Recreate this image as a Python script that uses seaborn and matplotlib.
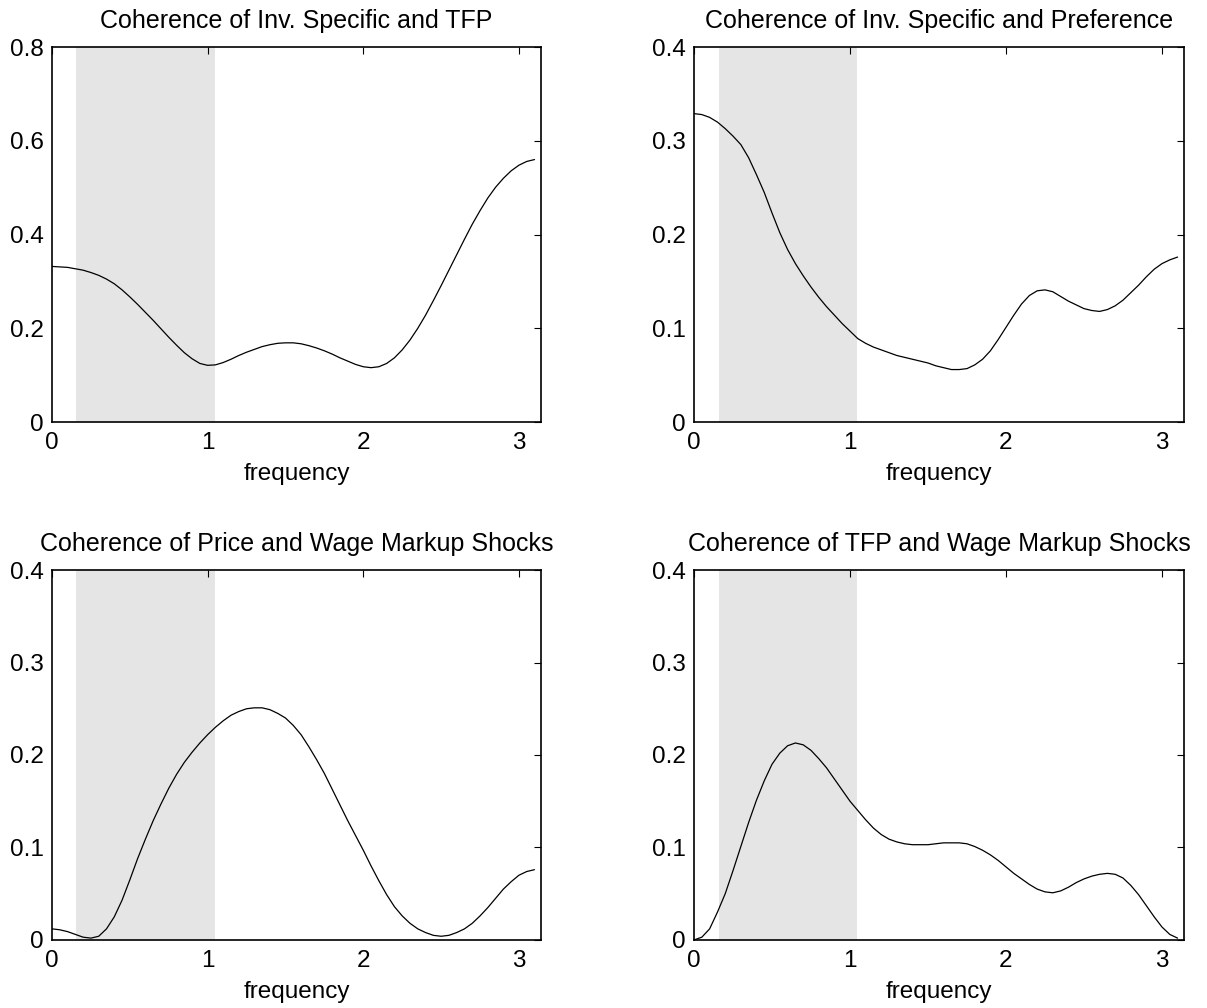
import numpy as np
import pandas as pd
import matplotlib
matplotlib.use("Agg")
import matplotlib.pyplot as plt
from matplotlib.ticker import FuncFormatter
import seaborn as sns

# Frequency grid (radians), 0 to 3.1 in steps of 0.05
freq = np.round(np.linspace(0.0, 3.1, 63), 2)

coh_inv_tfp = [0.332, 0.331, 0.330, 0.327, 0.324, 0.319, 0.313, 0.305, 0.295, 0.282,
               0.267, 0.251, 0.234, 0.217, 0.199, 0.181, 0.164, 0.148, 0.135, 0.125,
               0.121, 0.122, 0.127, 0.134, 0.142, 0.149, 0.155, 0.161, 0.165, 0.168,
               0.169, 0.169, 0.167, 0.163, 0.158, 0.152, 0.145, 0.137, 0.130, 0.123,
               0.118, 0.116, 0.118, 0.125, 0.137, 0.154, 0.175, 0.200, 0.228, 0.259,
               0.291, 0.324, 0.357, 0.390, 0.422, 0.451, 0.478, 0.501, 0.520, 0.536,
               0.548, 0.556, 0.560]

coh_inv_pref = [0.329, 0.328, 0.325, 0.320, 0.313, 0.305, 0.296, 0.282, 0.264, 0.245,
                0.223, 0.202, 0.184, 0.169, 0.156, 0.144, 0.133, 0.123, 0.114, 0.105,
                0.097, 0.089, 0.084, 0.080, 0.077, 0.074, 0.071, 0.069, 0.067, 0.065,
                0.063, 0.060, 0.058, 0.056, 0.056, 0.057, 0.061, 0.067, 0.076, 0.088,
                0.101, 0.114, 0.126, 0.135, 0.140, 0.141, 0.139, 0.134, 0.129, 0.125,
                0.121, 0.119, 0.118, 0.120, 0.124, 0.130, 0.138, 0.146, 0.155, 0.163,
                0.169, 0.173, 0.176]

coh_price_wage = [0.012, 0.011, 0.009, 0.006, 0.003, 0.002, 0.004, 0.012, 0.025, 0.043,
                  0.065, 0.088, 0.109, 0.129, 0.147, 0.164, 0.179, 0.192, 0.203, 0.213,
                  0.222, 0.230, 0.237, 0.243, 0.247, 0.250, 0.251, 0.251, 0.249, 0.245,
                  0.240, 0.232, 0.222, 0.209, 0.195, 0.180, 0.163, 0.146, 0.129, 0.113,
                  0.097, 0.080, 0.064, 0.049, 0.036, 0.026, 0.018, 0.012, 0.008, 0.005,
                  0.004, 0.005, 0.008, 0.012, 0.018, 0.026, 0.035, 0.045, 0.055, 0.063,
                  0.070, 0.074, 0.076]

coh_tfp_wage = [0.000, 0.003, 0.012, 0.030, 0.050, 0.075, 0.101, 0.127, 0.151, 0.172,
                0.190, 0.202, 0.210, 0.213, 0.211, 0.205, 0.196, 0.186, 0.174, 0.162,
                0.150, 0.140, 0.130, 0.121, 0.114, 0.109, 0.106, 0.104, 0.103, 0.103,
                0.103, 0.104, 0.105, 0.105, 0.105, 0.104, 0.101, 0.097, 0.092, 0.086,
                0.079, 0.072, 0.066, 0.060, 0.055, 0.052, 0.051, 0.053, 0.057, 0.062,
                0.066, 0.069, 0.071, 0.072, 0.071, 0.067, 0.059, 0.049, 0.037, 0.025,
                0.014, 0.006, 0.002]

titles = ["Coherence of Inv. Specific and TFP",
          "Coherence of Inv. Specific and Preference",
          "Coherence of Price and Wage Markup Shocks",
          "Coherence of TFP and Wage Markup Shocks"]
series = [coh_inv_tfp, coh_inv_pref, coh_price_wage, coh_tfp_wage]
ytick_sets = [[0, 0.2, 0.4, 0.6, 0.8],
              [0, 0.1, 0.2, 0.3, 0.4],
              [0, 0.1, 0.2, 0.3, 0.4],
              [0, 0.1, 0.2, 0.3, 0.4]]
xticks = [0, 1, 2, 3]

# business-cycle band: periods between 6 and 40 quarters
band_lo = 2 * np.pi / 40
band_hi = 2 * np.pi / 6

sns.set_style("white")
plt.rcParams["font.family"] = ["Liberation Sans", "DejaVu Sans"]
plt.rcParams["font.size"] = 17.5
plt.rcParams["text.color"] = "black"
plt.rcParams["axes.labelcolor"] = "black"

fig = plt.figure(figsize=(12.07, 10.08), dpi=100)
positions = [[0.0431, 0.5813, 0.4051, 0.3720],
             [0.5750, 0.5813, 0.4060, 0.3720],
             [0.0431, 0.0675, 0.4051, 0.3670],
             [0.5750, 0.0675, 0.4060, 0.3670]]

fmt = FuncFormatter(lambda v, _: f"{v:g}")

for pos, title, vals, yt in zip(positions, titles, series, ytick_sets):
    ax = fig.add_axes(pos)
    df = pd.DataFrame({"frequency": freq, "coherence": vals})
    ax.axvspan(band_lo, band_hi, color="#e5e5e5", lw=0, zorder=0)
    sns.lineplot(data=df, x="frequency", y="coherence", ax=ax,
                 color="black", linewidth=0.9, zorder=3)
    ax.set_xlim(0, np.pi)
    ax.set_ylim(yt[0], yt[-1])
    ax.set_xticks(xticks)
    ax.set_yticks(yt)
    ax.xaxis.set_major_formatter(fmt)
    ax.yaxis.set_major_formatter(fmt)
    ax.tick_params(direction="in", length=5, width=0.8, top=True, right=True,
                   labelsize=17.5, colors="black")
    ax.tick_params(axis="x", pad=7)
    ax.tick_params(axis="y", pad=6)
    for sp in ax.spines.values():
        sp.set_visible(True)
        sp.set_color("black")
        sp.set_linewidth(1.2)
    ax.set_xlabel("frequency", fontsize=17.5, labelpad=7, color="black")
    ax.set_ylabel("")
    ax.set_title(title, fontsize=18, pad=14, color="black")
    ax.set_facecolor("white")

fig.savefig("out.png", dpi=100, facecolor="white")
